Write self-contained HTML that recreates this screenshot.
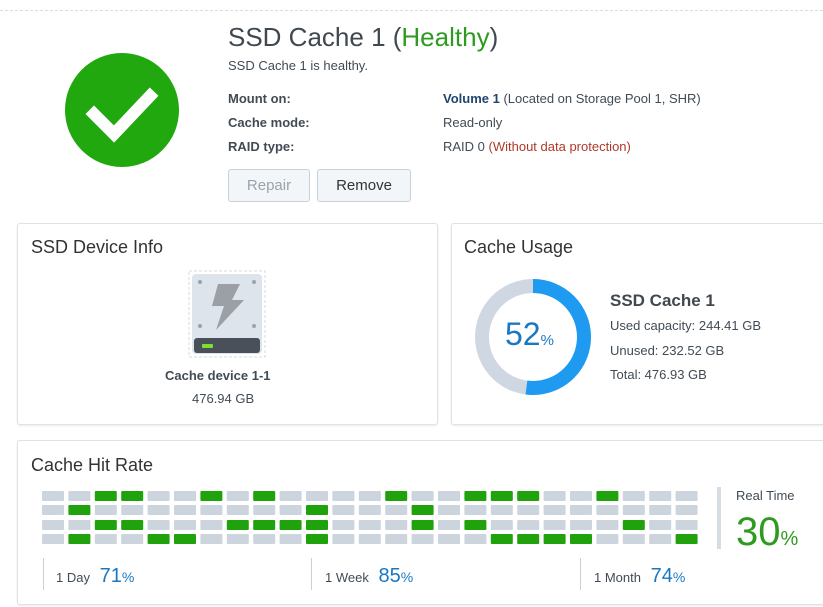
<!DOCTYPE html>
<html><head><meta charset="utf-8"><style>
body{margin:0;width:823px;height:607px;background:#fff;font-family:"Liberation Sans",sans-serif;color:#333;position:relative;overflow:hidden}
.a{position:absolute;white-space:nowrap}
.panel{position:absolute;border:1px solid #dde3ea;border-radius:3px;box-shadow:0 1px 2px rgba(0,0,0,.08);background:#fff}
.btn{position:absolute;border:1px solid #c8d0d9;border-radius:3px;background:#f3f6f9;font-size:15px;text-align:center;line-height:31px}
.h{font-size:18px;color:#333}
.lbl{font-size:13px;font-weight:bold;color:#414b55}
.val{font-size:13px;color:#414b55}
</style></head><body>
<div class="a" style="left:0;top:10px;width:823px;border-top:1px dashed #d8dde5"></div>
<svg class="a" style="left:60px;top:50px" width="124" height="124"><circle cx="62" cy="60" r="57" fill="#21a80f"/><polyline points="34,64 54,84 90,46" fill="none" stroke="#fff" stroke-width="12" stroke-linecap="square"/></svg>
<div class="a" style="left:228px;top:22px;font-size:26px;color:#404850">SSD Cache 1 (<span style="color:#2e9b20">Healthy</span>)</div>
<div class="a" style="left:228px;top:58px;font-size:13px;color:#414b55">SSD Cache 1 is healthy.</div>
<div class="a lbl" style="left:228px;top:91px">Mount on:</div>
<div class="a lbl" style="left:228px;top:115px">Cache mode:</div>
<div class="a lbl" style="left:228px;top:139px">RAID type:</div>
<div class="a val" style="left:443px;top:91px"><b style="color:#20456e">Volume 1</b> (Located on Storage Pool 1, SHR)</div>
<div class="a val" style="left:443px;top:115px">Read-only</div>
<div class="a val" style="left:443px;top:139px">RAID 0 <span style="color:#b0392a">(Without data protection)</span></div>
<div class="btn" style="left:228px;top:169px;width:80px;height:31px;color:#98a3ad">Repair</div>
<div class="btn" style="left:317px;top:169px;width:92px;height:31px;color:#333">Remove</div>

<div class="panel" style="left:17px;top:223px;width:419px;height:200px"></div>
<div class="a h" style="left:31px;top:237px">SSD Device Info</div>
<svg class="a" style="left:188px;top:270px" width="80" height="90">
<rect x="1" y="1" width="76" height="86" fill="none" stroke="#d4d9df" stroke-dasharray="3,2"/>
<rect x="4" y="4" width="70" height="80" rx="4" fill="#dde4ec"/>
<circle cx="12" cy="12" r="2" fill="#9aa3ad"/><circle cx="66" cy="12" r="2" fill="#9aa3ad"/><circle cx="12" cy="56" r="2" fill="#9aa3ad"/><circle cx="66" cy="56" r="2" fill="#9aa3ad"/>
<polygon points="30,14 52,14 44,30 56,30 28,60 36,36 24,36" fill="#9aa0a6"/>
<rect x="6" y="68" width="66" height="15" rx="3" fill="#4a5059"/>
<rect x="14" y="74" width="11" height="4" rx="1" fill="#7ee02a"/>
</svg>
<div class="a" style="left:165px;top:368px;font-size:13px;font-weight:bold;color:#414b55">Cache device 1-1</div>
<div class="a val" style="left:192px;top:391px">476.94 GB</div>

<div class="panel" style="left:451px;top:223px;width:380px;height:200px"></div>
<div class="a h" style="left:464px;top:237px">Cache Usage</div>
<svg class="a" style="left:473px;top:277px" width="120" height="120"><circle cx="60" cy="60" r="51" fill="none" stroke="#cfd8e2" stroke-width="14"/><circle cx="60" cy="60" r="51" fill="none" stroke="#1e9bf0" stroke-width="14" stroke-dasharray="166.6 400" transform="rotate(-90 60 60)"/></svg>
<div class="a" style="left:505px;top:316px;font-size:32px;color:#1a78c2">52<span style="font-size:15px">%</span></div>
<div class="a" style="left:610px;top:291px;font-size:17px;font-weight:bold;color:#404850">SSD Cache 1</div>
<div class="a val" style="left:610px;top:318px">Used capacity: 244.41 GB</div>
<div class="a val" style="left:610px;top:343px">Unused: 232.52 GB</div>
<div class="a val" style="left:610px;top:367px">Total: 476.93 GB</div>

<div class="panel" style="left:17px;top:440px;width:814px;height:163px"></div>
<div class="a h" style="left:31px;top:455px">Cache Hit Rate</div>
<svg class="a" style="left:0;top:0" width="823" height="607" id="g"></svg>
<div class="a" style="left:717px;top:487px;width:4px;height:62px;background:#d5dce4"></div>
<div class="a" style="left:736px;top:488px;font-size:13px;color:#414b55">Real Time</div>
<div class="a" style="left:736px;top:510px;font-size:40px;color:#2e9b20">30<span style="font-size:20px">%</span></div>
<div class="a" style="left:43px;top:558px;width:1px;height:32px;background:#c8d0d8"></div>
<div class="a" style="left:311px;top:558px;width:1px;height:32px;background:#c8d0d8"></div>
<div class="a" style="left:580px;top:558px;width:1px;height:32px;background:#c8d0d8"></div>
<div class="a val" style="left:56px;top:565px">1 Day <span style="font-size:20px;color:#1a78c2;margin-left:6px">71<span style="font-size:14px">%</span></span></div>
<div class="a val" style="left:325px;top:565px">1 Week <span style="font-size:20px;color:#1a78c2;margin-left:6px">85<span style="font-size:14px">%</span></span></div>
<div class="a val" style="left:594px;top:565px">1 Month <span style="font-size:20px;color:#1a78c2;margin-left:6px">74<span style="font-size:14px">%</span></span></div>
<script>
var g=[[2,3,6,8,13,16,17,18,21],[1,10,14],[2,3,7,8,9,10,14,16,22],[1,4,5,10,17,18,19,20,24]];
var s='',ys=[491,505,520,534];
for(var r=0;r<4;r++)for(var c=0;c<25;c++){var x=42+c*26.4;s+='<rect x="'+x+'" y="'+ys[r]+'" width="22" height="10" rx="1" fill="'+(g[r].indexOf(c)>=0?'#1fa20b':'#ccd4dd')+'"/>';}
document.getElementById('g').innerHTML=s;
</script>
</body></html>
